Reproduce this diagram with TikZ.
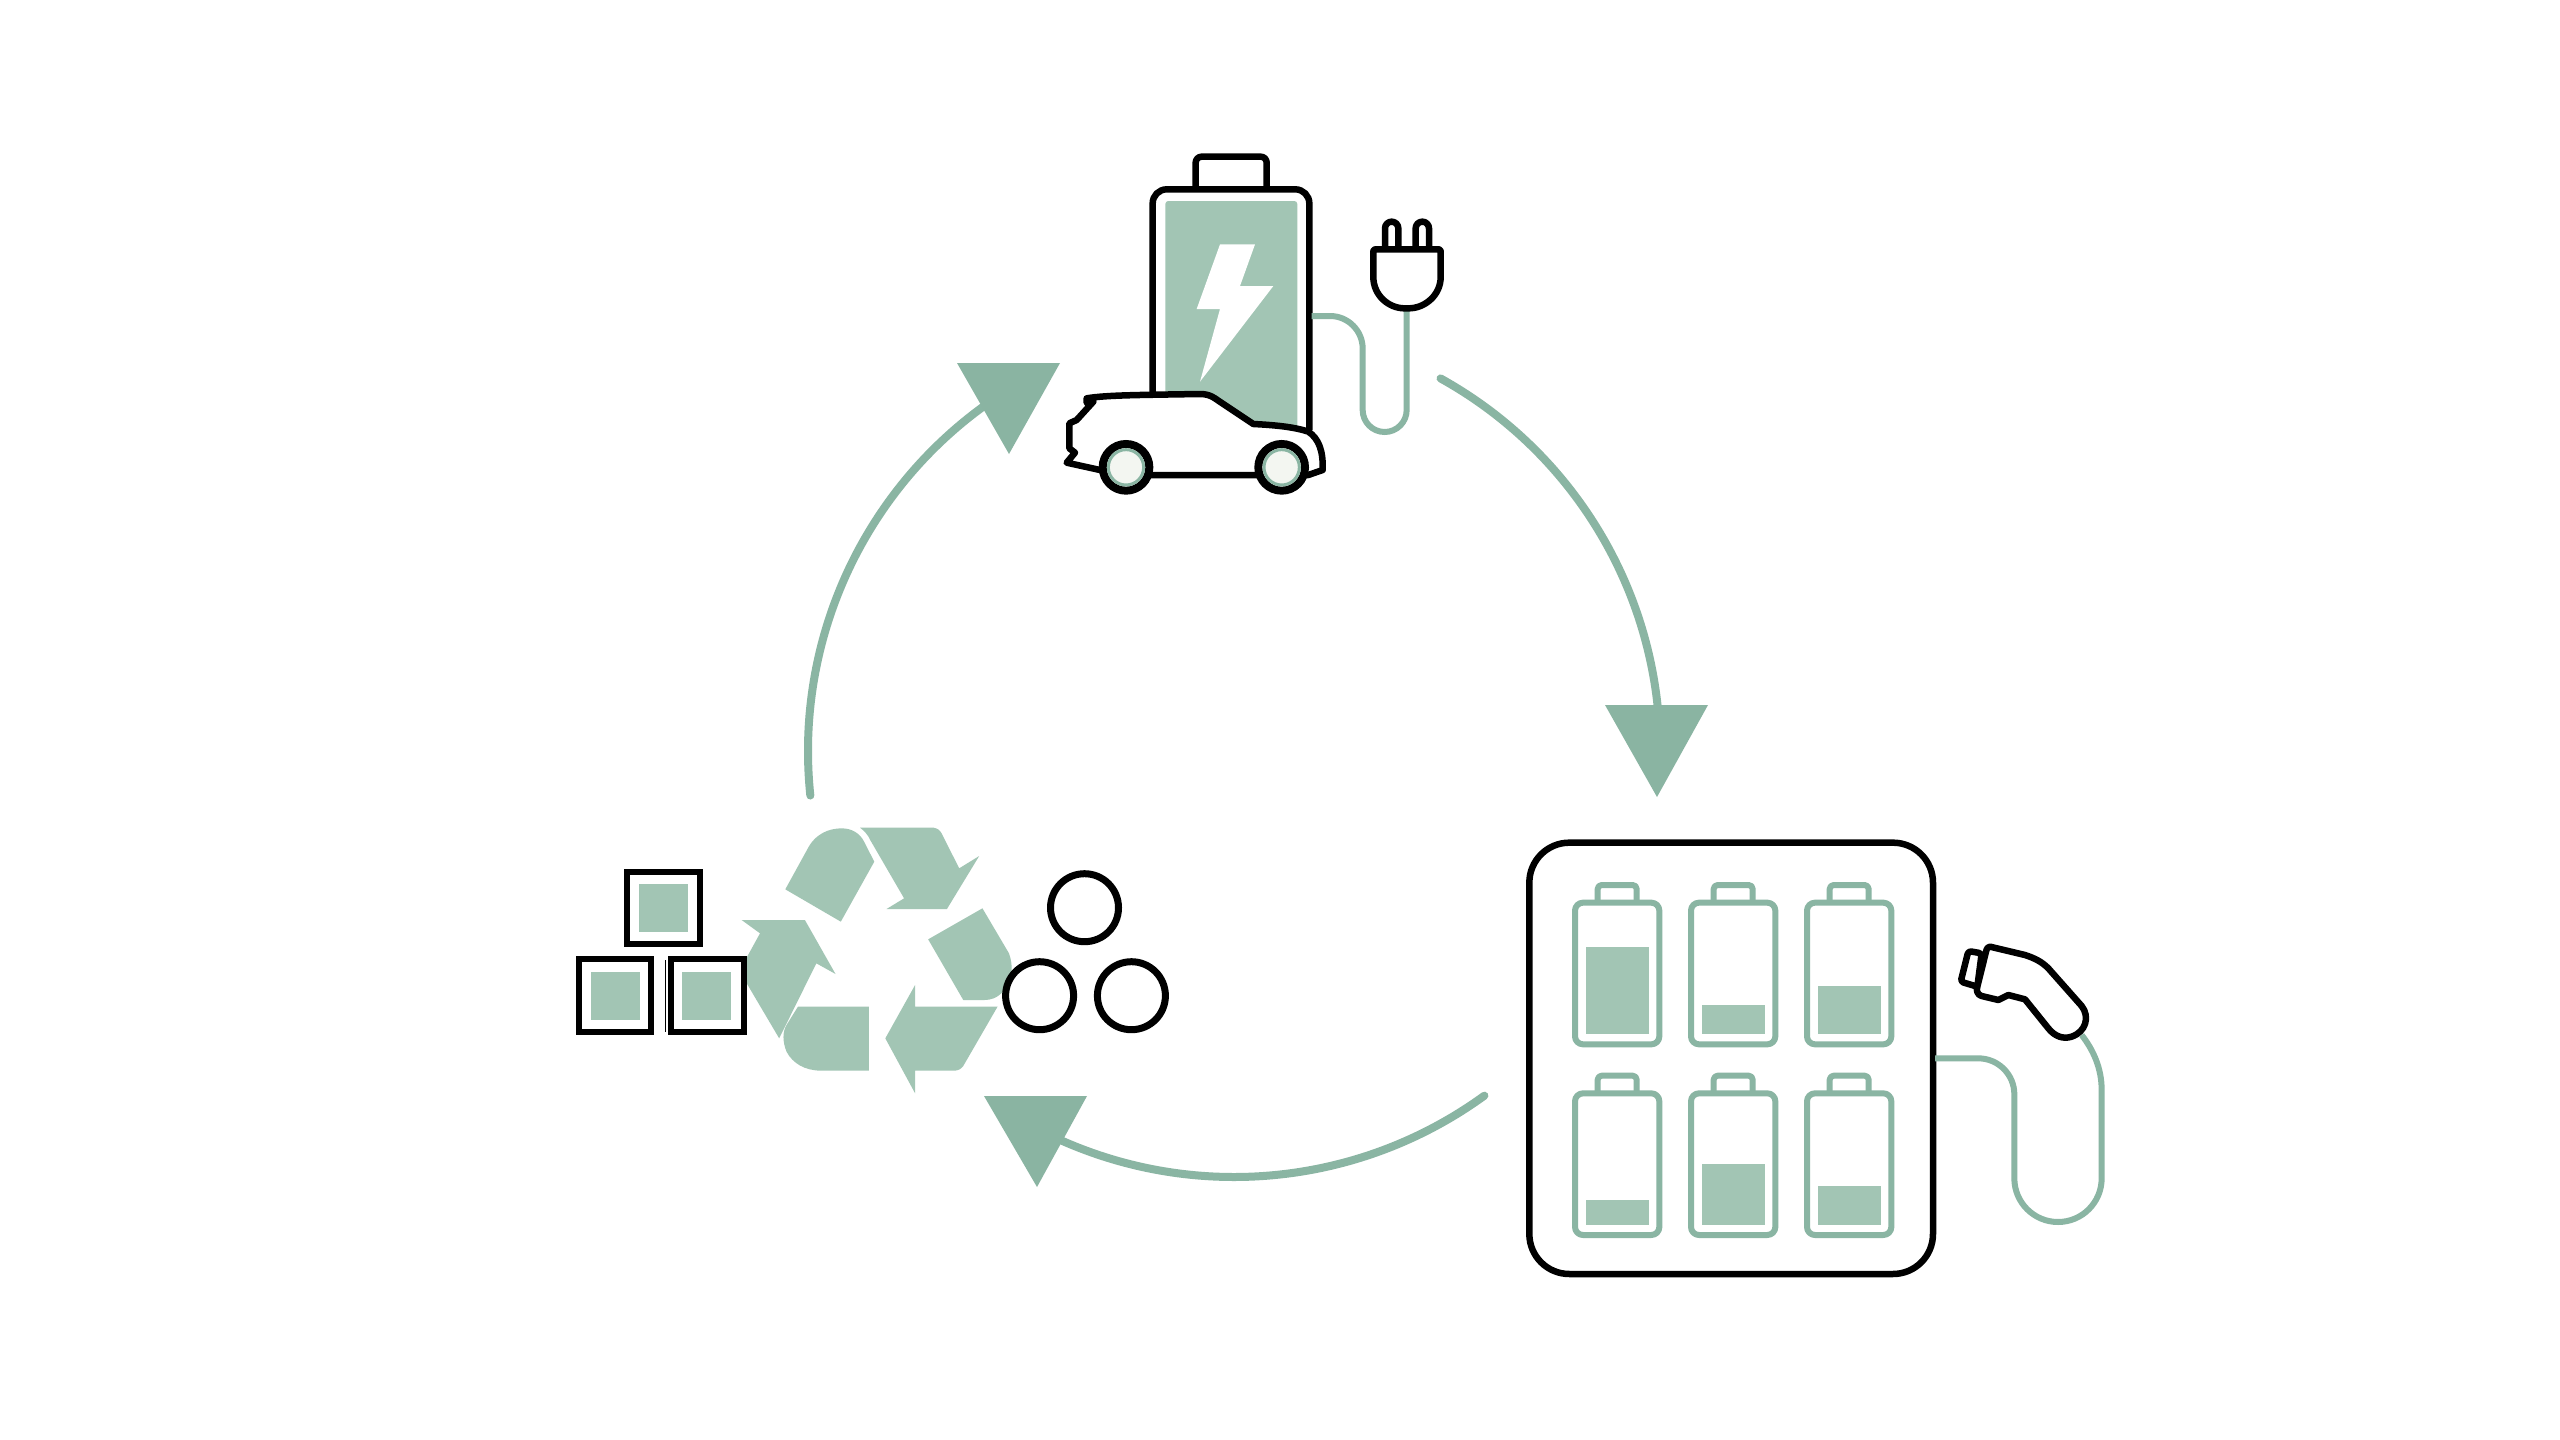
\documentclass[tikz,border=0pt]{standalone}
\usetikzlibrary{calc}
\definecolor{lineg}{HTML}{8AB5A3}
\definecolor{fillg}{HTML}{A2C5B4}
\definecolor{tiltg}{HTML}{8AB4A2}
\definecolor{hubw}{HTML}{F3F6F1}
\tikzset{
  flow/.style={lineg,line width=8pt,line cap=round},
  head/.style={fill=tiltg,draw=none},
  blk/.style={draw=black,line width=6.5pt,line join=round},
  cord/.style={draw=lineg,line width=6pt},
  cell/.style={draw=lineg,line width=6pt,line join=round},
  charge/.style={fill=fillg,draw=none},
  blade/.style={fill=fillg,draw=none},
  ringblk/.style={draw=black,line width=7pt,fill=white},
}
\newcommand{\smallcell}[4]{%
  \fill[charge] (#1+32,#3) rectangle (#1+222,#4);
  \draw[cell,rounded corners=8pt] (#1,#2+425) -- (#1,#2) -- (#1+253,#2) -- (#1+253,#2+425) -- cycle;
  \draw[cell,rounded corners=4pt] (#1+68,#2) -- (#1+68,#2-53) -- (#1+185,#2-53) -- (#1+185,#2);
}
\newcommand{\wheel}[2]{%
  \draw[draw=black,line width=8pt,fill=white] (#1,#2) circle (70);
  \draw[draw=lineg,line width=3pt,fill=hubw] (#1,#2) circle (53);
}
\begin{document}
\begin{tikzpicture}[x=1pt,y=1pt,yscale=-1]
\useasboundingbox (0,0) rectangle (2560,1440);
\fill[white] (0,0) rectangle (2560,1440);
\coordinate (hub) at (1234,751);
\draw[flow] (hub) ++(-61:426) coordinate (a1s) arc (-61:-6:426) coordinate (a1e);
\draw[flow] (hub) ++(54:426) coordinate (a2s) arc (54:114:426) coordinate (a2e);
\draw[flow] (hub) ++(174:426) coordinate (a3s) arc (174:234:426) coordinate (a3e);
\fill[head] (957,363) -- (1060,363) -- (1009,454) -- cycle;
\fill[head] (1605,705) -- (1708,705) -- (1657,797) -- cycle;
\fill[head] (984,1096) -- (1087,1096) -- (1037,1187) -- cycle;

\begin{scope}[shift={(1040,130)},scale=0.33333]
  \fill[fillg,rounded corners=3pt] (376,213) rectangle (772,900);
  \fill[white] (540,343) -- (645,343) -- (600,468) -- (700,468) -- (480,755) -- (540,537) -- (470,537) -- cycle;
  \draw[blk,rounded corners=14pt] (338,900) -- (338,178) -- (808,178) -- (808,900);
  \draw[blk,rounded corners=6pt] (467,178) -- (467,80) -- (680,80) -- (680,178);
  \draw[cord] (815,558) -- (870,558) arc (-90:0:98) -- (968,840) arc (180:0:66) -- (1100,535);
  \draw[blk,fill=white] (1035,358) -- (1035,295) arc (180:360:20) -- (1075,358);
  \draw[blk,fill=white] (1127,358) -- (1127,295) arc (180:360:20) -- (1167,358);
  \draw[blk,fill=white,rounded corners=2pt] (1000,358) -- (1202,358) -- (1202,435) .. controls (1202,495) and (1155,535) .. (1100,535) .. controls (1045,535) and (1000,495) .. (1000,435) -- cycle;
  \draw[blk,fill=white] (140,805) .. controls (200,795) and (300,795) .. (480,792)
     .. controls (510,792) and (525,805) .. (535,812) -- (640,882) .. controls (700,885) and (760,890) .. (805,905)
     .. controls (835,925) and (850,960) .. (848,1020) -- (805,1035) -- (650,1035) -- (330,1035) -- (180,1020)
     -- (80,998) -- (105,968) -- (88,955) -- (88,880) -- (110,870) -- (160,815) -- (140,818) -- cycle;
  \wheel{258}{1012}
  \wheel{725}{1012}
\end{scope}

\begin{scope}[shift={(1510,830)},scale=0.33333]
  \draw[blk,fill=white,rounded corners=40pt] (58,38) rectangle (1269,1332);
  \smallcell{195}{218}{352}{612}
  \smallcell{543}{218}{524}{612}
  \smallcell{891}{218}{467}{612}
  \smallcell{195}{790}{1110}{1185}
  \smallcell{543}{790}{1003}{1185}
  \smallcell{891}{790}{1067}{1185}
\end{scope}
\begin{scope}[shift={(1900,920)},scale=0.33333]
  \draw[cord] (105,415) -- (235,415) arc (-90:0:108) -- (343,775) arc (180:0:131) -- (605,510) .. controls (605,445) and (580,390) .. (545,345);
  \draw[blk,fill=white,rounded corners=3pt] (245,100) -- (205,93) -- (182,185) -- (232,200) -- cycle;
  \draw[blk,fill=white] (270,80) -- (375,105) .. controls (405,115) and (425,125) .. (445,145) -- (545,258)
     .. controls (570,290) and (558,335) .. (515,350) .. controls (490,358) and (465,350) .. (445,325)
     -- (375,238) -- (325,225) -- (295,240) -- (245,228) .. controls (232,225) and (228,210) .. (232,200) -- (258,95) .. controls (260,85) and (265,80) .. (270,80) -- cycle;
\end{scope}

\begin{scope}[shift={(560,800)},xscale=0.40816,yscale=0.33333]
  \fill[blade] (552,268) -- (605,150) .. controls (625,100) and (660,85) .. (690,85) .. controls (715,85) and (735,100) .. (745,125) -- (770,185) -- (688,365) -- cycle;
  \fill[blade] (735,83) -- (915,83) .. controls (925,85) and (930,90) .. (935,100) -- (978,205) -- (1027,168) -- (948,327) -- (800,327) -- (843,295) -- (760,120) .. controls (755,105) and (745,92) .. (735,83) -- cycle;
  \fill[blade] (902,418) -- (1035,325) -- (1100,460) .. controls (1112,500) and (1108,540) .. (1085,575) .. controls (1070,595) and (1055,600) .. (1040,600) -- (988,600) -- cycle;
  \fill[blade] (1072,620) -- (870,620) -- (870,555) -- (797,715) -- (870,880) -- (870,812) -- (965,812) .. controls (975,812) and (982,808) .. (988,798) -- cycle;
  \fill[blade] (583,620) -- (757,620) -- (757,812) -- (640,812) .. controls (600,812) and (570,790) .. (555,755) .. controls (545,725) and (545,695) .. (555,675) -- cycle;
  \fill[blade] (445,360) -- (600,360) -- (675,522) -- (628,490) -- (537,715) -- (455,545) -- (455,478) -- (490,400) -- cycle;
  \foreach \xa/\ya/\xb/\yb/\fa/\fb/\fc/\fd in {165/215/342/433/193/252/313/396, 46/478/223/697/75/515/195/660, 272/478/450/697/300/515/420/660}{
    \draw[draw=black,line width=6pt,fill=white] (\xa,\ya) rectangle (\xb,\yb);
    \fill[fillg] (\fa,\fb) rectangle (\fc,\fd);
  }
  \draw[black,line width=1.5pt] (258,480) -- (258,695);
\end{scope}

\draw[ringblk] (1084.5,907.7) circle (34);
\draw[ringblk] (1039.6,995.7) circle (34);
\draw[ringblk] (1131.4,995.7) circle (34);
\end{tikzpicture}
\end{document}
